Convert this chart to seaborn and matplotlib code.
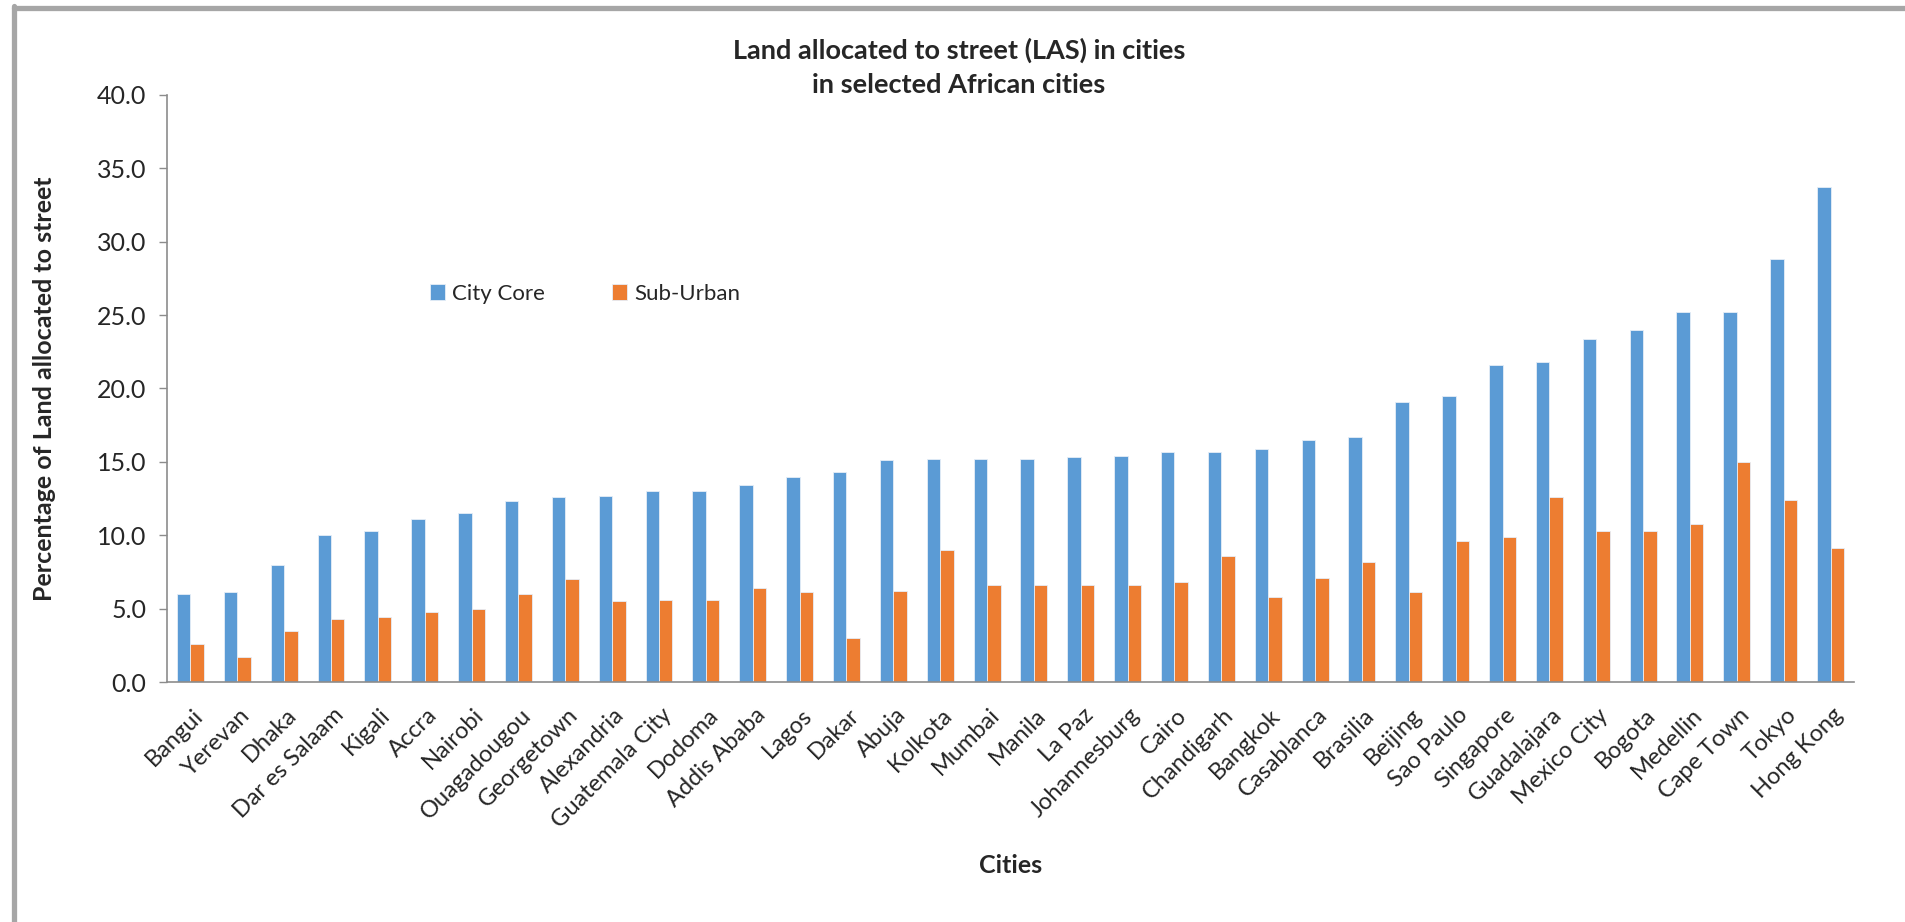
import matplotlib
matplotlib.use("Agg")
import matplotlib.pyplot as plt
import matplotlib.ticker as mticker
import matplotlib.transforms as mtransforms
from matplotlib.lines import Line2D
import pandas as pd
import seaborn as sns

# ── Data ──────────────────────────────────────────────────────────────────────
cities = [
    "Bangui", "Yerevan", "Dhaka", "Dar es Salaam", "Kigali", "Accra", "Nairobi",
    "Ouagadougou", "Georgetown", "Alexandria", "Guatemala City", "Dodoma",
    "Addis Ababa", "Lagos", "Dakar", "Abuja", "Kolkota", "Mumbai", "Manila",
    "La Paz", "Johannesburg", "Cairo", "Chandigarh", "Bangkok", "Casablanca",
    "Brasilia", "Beijing", "Sao Paulo", "Singapore", "Guadalajara",
    "Mexico City", "Bogota", "Medellin", "Cape Town", "Tokyo", "Hong Kong",
]
city_core = [
    6.0, 6.1, 8.0, 10.0, 10.3, 11.1, 11.5, 12.3, 12.6, 12.7, 13.0, 13.0,
    13.4, 14.0, 14.3, 15.1, 15.2, 15.2, 15.2, 15.3, 15.4, 15.7, 15.7, 15.9,
    16.5, 16.7, 19.1, 19.5, 21.6, 21.8, 23.4, 24.0, 25.2, 25.2, 28.8, 33.7,
]
sub_urban = [
    2.6, 1.7, 3.5, 4.3, 4.4, 4.8, 5.0, 6.0, 7.0, 5.5, 5.6, 5.6,
    6.4, 6.1, 3.0, 6.2, 9.0, 6.6, 6.6, 6.6, 6.6, 6.8, 8.6, 5.8,
    7.1, 8.2, 6.1, 9.6, 9.9, 12.6, 10.3, 10.3, 10.8, 15.0, 12.4, 9.1,
]
series_names = ["City Core", "Sub-Urban"]
series_colors = ["#5B9BD5", "#ED7D31"]

df = pd.DataFrame({
    "city": cities * 2,
    "series": [series_names[0]] * len(cities) + [series_names[1]] * len(cities),
    "value": city_core + sub_urban,
})

# ── Plot ──────────────────────────────────────────────────────────────────────
sns.set_style("white")
plt.rcParams["font.family"] = ["Lato", "DejaVu Sans"]

fig, ax = plt.subplots(figsize=(19.06, 9.22), dpi=100)
fig.subplots_adjust(left=0.0876, right=0.9727, top=0.897, bottom=0.2603)

sns.barplot(
    data=df, x="city", y="value", hue="series",
    order=cities, hue_order=series_names, palette=series_colors,
    width=0.575, edgecolor="#E6EEF7", linewidth=0.6, saturation=1,
    errorbar=None, ax=ax,
)

ax.set_ylim(0, 40)
ax.yaxis.set_major_locator(mticker.MultipleLocator(5))
ax.yaxis.set_major_formatter(mticker.FormatStrFormatter("%.1f"))
ax.tick_params(axis="y", left=True, length=6, width=1, color="#8C8C8C",
               labelsize=18, pad=9)
ax.tick_params(axis="x", bottom=False, labelsize=17, pad=18)
# nudge rotated city names right so they end at the category centre
shift = mtransforms.ScaledTranslation(0.09, 0, fig.dpi_scale_trans)
for lab in ax.get_xticklabels():
    lab.set_rotation(45)
    lab.set_ha("right")
    lab.set_va("center")
    lab.set_rotation_mode("anchor")
    lab.set_transform(lab.get_transform() + shift)

ax.spines[["top", "right"]].set_visible(False)
for side in ["left", "bottom"]:
    ax.spines[side].set_color("#8C8C8C")
    ax.spines[side].set_linewidth(1.2)

ax.set_xlabel("Cities", fontsize=18, fontweight="bold", va="center")
ax.xaxis.set_label_coords(0.5, -0.313)
ax.set_ylabel("Percentage of Land allocated to street", fontsize=18,
              fontweight="bold", va="center")
ax.yaxis.set_label_coords(-0.0725, 0.5)

ax.legend(
    ncol=2, frameon=False, loc="center left", bbox_to_anchor=(0.144, 0.661),
    fontsize=16, handlelength=0.7, handleheight=0.7, handletextpad=0.3,
    columnspacing=3.0,
)

fig.suptitle("Land allocated to street (LAS) in cities\nin selected African cities",
             fontsize=19.5, fontweight="bold", x=0.503, y=0.959, linespacing=1.47)

# chart frame (top and left edges visible in the source crop)
fig.add_artist(Line2D([0.0071, 1.0], [0.9908, 0.9908], color="#A6A6A6",
                      lw=3.8, transform=fig.transFigure))
fig.add_artist(Line2D([0.0071, 0.0071], [0.0, 0.9935], color="#A6A6A6",
                      lw=3.8, transform=fig.transFigure))

fig.savefig("out.png", dpi=100)
